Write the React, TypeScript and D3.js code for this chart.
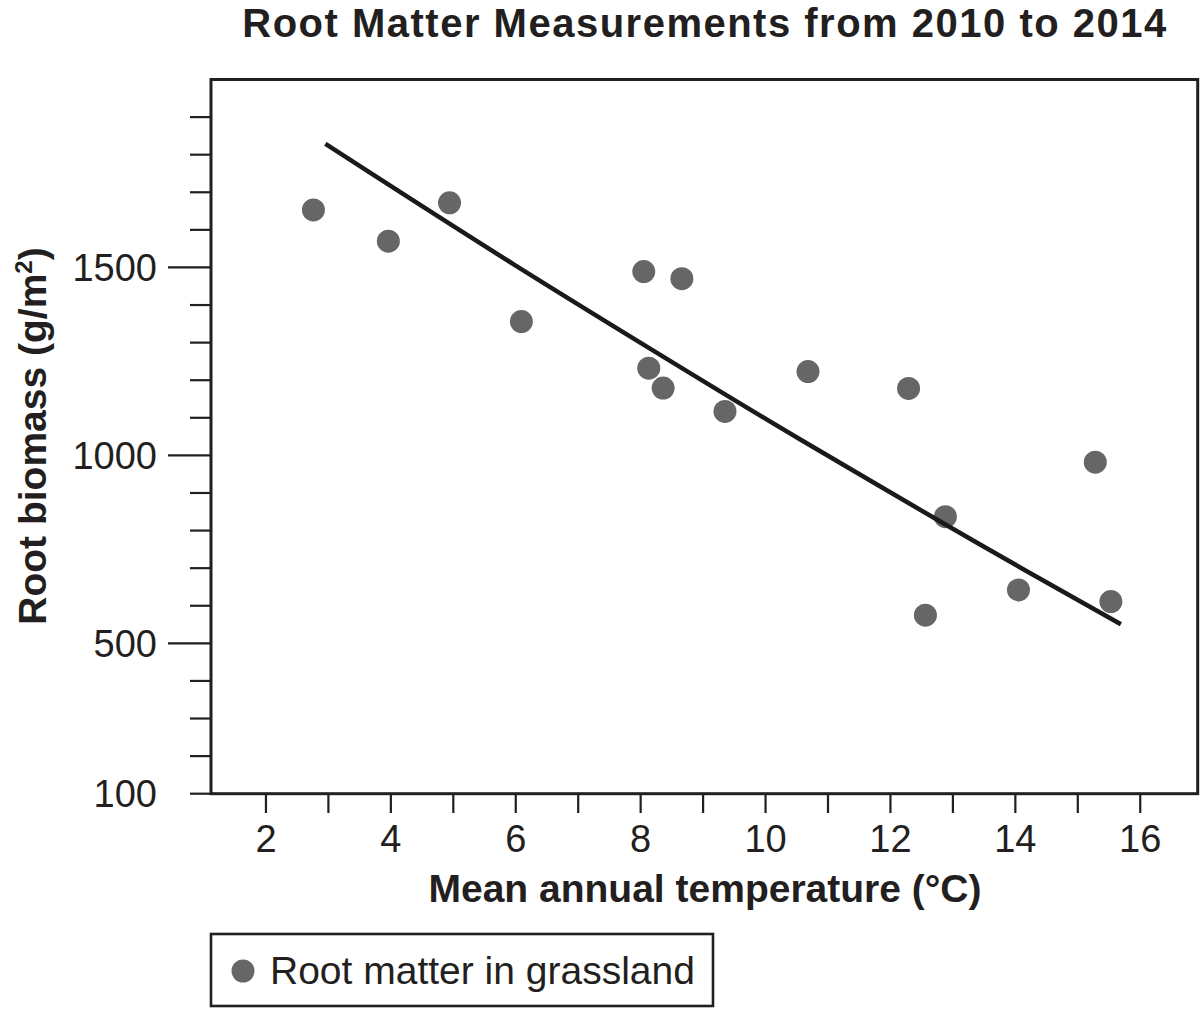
import React from "react";
import * as d3 from "d3";

// Grassland root biomass vs. mean annual temperature
const temperature = [2.76, 3.96, 4.94, 6.09, 8.05, 8.66, 8.13, 8.36, 9.35, 10.68, 12.29, 15.28, 12.88, 12.56, 14.05, 15.53];
const rootBiomass = [1653, 1570, 1672, 1356, 1489, 1470, 1232, 1179, 1117, 1223, 1178, 982, 837, 575, 642, 611];

// Fitted trend curve, sampled along its length
const trendX = [2.95, 5.96, 8.95, 10.55, 12.88, 14.29, 15.69];
const trendY = [1829, 1509, 1203, 1043, 816, 682, 551];

const xTicks = [2, 3, 4, 5, 6, 7, 8, 9, 10, 11, 12, 13, 14, 15, 16];
const xLabels = [2, 4, 6, 8, 10, 12, 14, 16];
const yTicks = [100, 200, 300, 400, 500, 600, 700, 800, 900, 1000, 1100, 1200, 1300, 1400, 1500, 1600, 1700, 1800, 1900];
const yLabels = [100, 500, 1000, 1500];
const yMajor = [500, 1000, 1500];

const title = "Root Matter Measurements from 2010 to 2014";
const xTitle = "Mean annual temperature (°C)";
const legendLabel = "Root matter in grassland";

const W = 1200;
const H = 1009;
const left = 211;
const right = 1197.7;
const top = 79.5;
const bottom = 793.7;
const ink = "#231f20";
const dotFill = "#666666";
const font = "Liberation Sans, Arial, Helvetica, sans-serif";

export default function App() {
  const x = d3.scaleLinear().domain([1.12, 16.92]).range([left, right]);
  const y = d3.scaleLinear().domain([100, 2000]).range([bottom, top]);

  const trend = d3
    .line<number>()
    .x((_, i) => x(trendX[i]))
    .y((_, i) => y(trendY[i]))
    .curve(d3.curveNatural)(trendX);

  return (
    <svg
      width={W}
      height={H}
      style={{ position: "absolute", left: 0, top: 0, background: "#fff" }}
      fontFamily={font}
    >
      <rect x={0} y={0} width={W} height={H} fill="#fff" />
      <text x={705} y={37} textAnchor="middle" fontSize={40} fontWeight="bold" fill={ink} letterSpacing={1.5}>
        {title}
      </text>

      {/* y ticks */}
      {yTicks.map((t) => (
        <line
          key={"yt" + t}
          x1={yMajor.includes(t) ? 168 : 190}
          x2={left}
          y1={y(t)}
          y2={y(t)}
          stroke={ink}
          strokeWidth={2.2}
        />
      ))}
      {yLabels.map((t) => (
        <text key={"yl" + t} x={157} y={y(t)} dy="0.36em" textAnchor="end" fontSize={38} fill={ink}>
          {t}
        </text>
      ))}

      {/* x ticks */}
      {xTicks.map((t) => (
        <line key={"xt" + t} x1={x(t)} x2={x(t)} y1={bottom} y2={813} stroke={ink} strokeWidth={2.2} />
      ))}
      {xLabels.map((t) => (
        <text key={"xl" + t} x={x(t)} y={852} textAnchor="middle" fontSize={38} fill={ink}>
          {t}
        </text>
      ))}

      {/* plot frame */}
      <rect x={left} y={top} width={right - left} height={bottom - top} fill="none" stroke={ink} strokeWidth={3} />

      {/* points */}
      {temperature.map((t, i) => (
        <circle key={"p" + i} cx={x(t)} cy={y(rootBiomass[i])} r={11.5} fill={dotFill} />
      ))}

      {/* trend */}
      <path d={trend || ""} fill="none" stroke="#1a1a1a" strokeWidth={4.5} />

      <text x={705} y={902} textAnchor="middle" fontSize={39} fontWeight="bold" fill={ink}>
        {xTitle}
      </text>
      <text
        transform="translate(46,436) rotate(-90)"
        textAnchor="middle"
        fontSize={39}
        fontWeight="bold"
        fill={ink}
      >
        Root biomass (g/m<tspan fontSize={24} dy={-14}>2</tspan>
        <tspan dy={14}>)</tspan>
      </text>

      {/* legend */}
      <rect x={211} y={934} width={502} height={72} fill="#fff" stroke={ink} strokeWidth={2.6} />
      <circle cx={243} cy={971} r={11.5} fill={dotFill} />
      <text x={270} y={984} fontSize={39} fill={ink}>
        {legendLabel}
      </text>
    </svg>
  );
}
